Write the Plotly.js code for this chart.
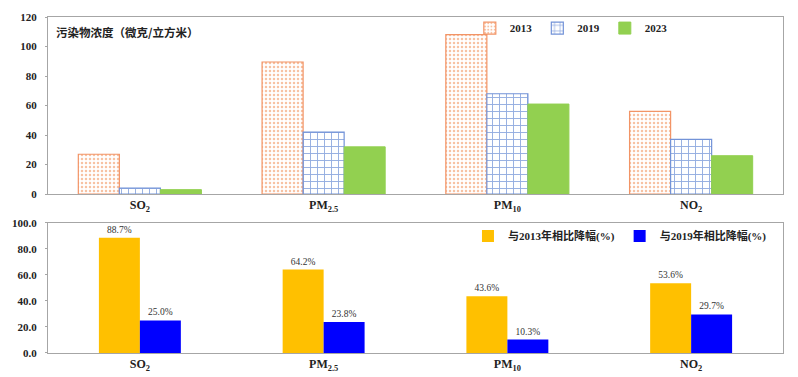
<!DOCTYPE html>
<html>
<head>
<meta charset="utf-8">
<script src="https://cdn.plot.ly/plotly-3.0.1.min.js"></script>
<style>html,body{margin:0;padding:0;background:#fff;}#chart{width:798px;height:377px;}</style>
</head>
<body>
<div id="chart"></div>
<script>
const categories = ["SO<sub>2</sub>", "PM<sub>2.5</sub>", "PM<sub>10</sub>", "NO<sub>2</sub>"];
const years = ["2013", "2019", "2023"];
const conc2013 = [27, 89.5, 108, 56];
const conc2019 = [4, 42, 68, 37];
const conc2023 = [3, 32, 61, 26];
const dropLabels = ["与2013年相比降幅(%)", "与2019年相比降幅(%)"];
const dropVs2013 = [88.7, 64.2, 43.6, 53.6];
const dropVs2019 = [25.0, 23.8, 10.3, 29.7];
const topTitle = "污染物浓度（微克/立方米）";

const serif = "Liberation Serif, 'Times New Roman', 'Noto Sans CJK SC', serif";
const tickFont = {family: serif, size: 11, color: "#222", weight: "bold"};
const catFont = {family: serif, size: 12, color: "#222", weight: "bold"};

const traces = [
  {type: "bar", x: categories, y: conc2013, name: years[0], xaxis: "x", yaxis: "y", legend: "legend",
   marker: {color: "#ffffff", line: {color: "#F29466", width: 1.2},
            pattern: {shape: ".", fgcolor: "#F7C2A3", bgcolor: "#ffffff", size: 4, solidity: 0.3}}},
  {type: "bar", x: categories, y: conc2019, name: years[1], xaxis: "x", yaxis: "y", legend: "legend",
   marker: {color: "#ffffff", line: {color: "#7393D8", width: 1.2},
            pattern: {shape: "+", fgcolor: "#93ADE0", bgcolor: "#ffffff", size: 7, solidity: 0.25}}},
  {type: "bar", x: categories, y: conc2023, name: years[2], xaxis: "x", yaxis: "y", legend: "legend",
   marker: {color: "#92D050", line: {color: "#92D050", width: 1}}},
  {type: "bar", x: categories, y: dropVs2013, name: dropLabels[0], xaxis: "x2", yaxis: "y2", legend: "legend2",
   width: 0.223, offset: -0.223,
   marker: {color: "#FFC000", line: {width: 0}},
   text: dropVs2013.map(v => v.toFixed(1) + "%"), textposition: "outside", cliponaxis: false,
   textfont: {family: serif, size: 9.5, color: "#333"}},
  {type: "bar", x: categories, y: dropVs2019, name: dropLabels[1], xaxis: "x2", yaxis: "y2", legend: "legend2",
   width: 0.223, offset: 0,
   marker: {color: "#0000FF", line: {width: 0}},
   text: dropVs2019.map(v => v.toFixed(1) + "%"), textposition: "outside", cliponaxis: false,
   textfont: {family: serif, size: 9.5, color: "#333"}}
];

const axisLine = "#A6A6A6";
const layout = {
  width: 798, height: 377,
  margin: {l: 48, r: 15, t: 17, b: 24},
  paper_bgcolor: "#ffffff", plot_bgcolor: "#ffffff",
  barmode: "group",
  bargap: 0.33, bargroupgap: 0,
  showlegend: true,
  font: {family: serif, color: "#222"},
  xaxis: {domain: [0, 1], anchor: "y", showline: true, mirror: true, linecolor: axisLine, linewidth: 1,
          tickfont: catFont, ticks: "", showgrid: false, automargin: false},
  yaxis: {domain: [0.473, 1], anchor: "x", range: [0, 120], dtick: 20, showline: true, mirror: true,
          linecolor: axisLine, linewidth: 1, showgrid: false, zeroline: false, ticks: "outside", ticklen: 2,
          tickcolor: axisLine, tickfont: tickFont, ticklabelstandoff: 6, automargin: false},
  xaxis2: {domain: [0, 1], anchor: "y2", showline: true, mirror: true, linecolor: axisLine, linewidth: 1,
           tickfont: catFont, ticks: "", showgrid: false, automargin: false},
  yaxis2: {domain: [0, 0.387], anchor: "x2", range: [0, 100], dtick: 20, tickformat: ".1f", showline: true,
           mirror: true, linecolor: axisLine, linewidth: 1, showgrid: false, zeroline: false, ticks: "outside",
           ticklen: 2, tickcolor: axisLine, tickfont: tickFont, ticklabelstandoff: 6, automargin: false},
  legend: {orientation: "h", x: 0.712, y: 0.967, xanchor: "center", yanchor: "middle", xref: "paper", yref: "paper",
           font: {family: serif, size: 11, color: "#222", weight: "bold"}, itemwidth: 30,
           bgcolor: "rgba(0,0,0,0)"},
  legend2: {orientation: "h", x: 0.985, y: 0.348, xanchor: "right", yanchor: "middle", xref: "paper", yref: "paper",
           font: {family: serif, size: 11, color: "#222", weight: "bold"}, itemwidth: 30,
           bgcolor: "rgba(0,0,0,0)"},
  annotations: [
    {text: "<b>" + topTitle + "</b>", xref: "paper", yref: "paper", x: 0.008, y: 0.955,
     xanchor: "left", yanchor: "middle", showarrow: false,
     font: {family: "'Noto Sans CJK SC', sans-serif", size: 11.5, color: "#222"}}
  ]
};

Plotly.newPlot("chart", traces, layout, {displayModeBar: false, staticPlot: true});
</script>
</body>
</html>
